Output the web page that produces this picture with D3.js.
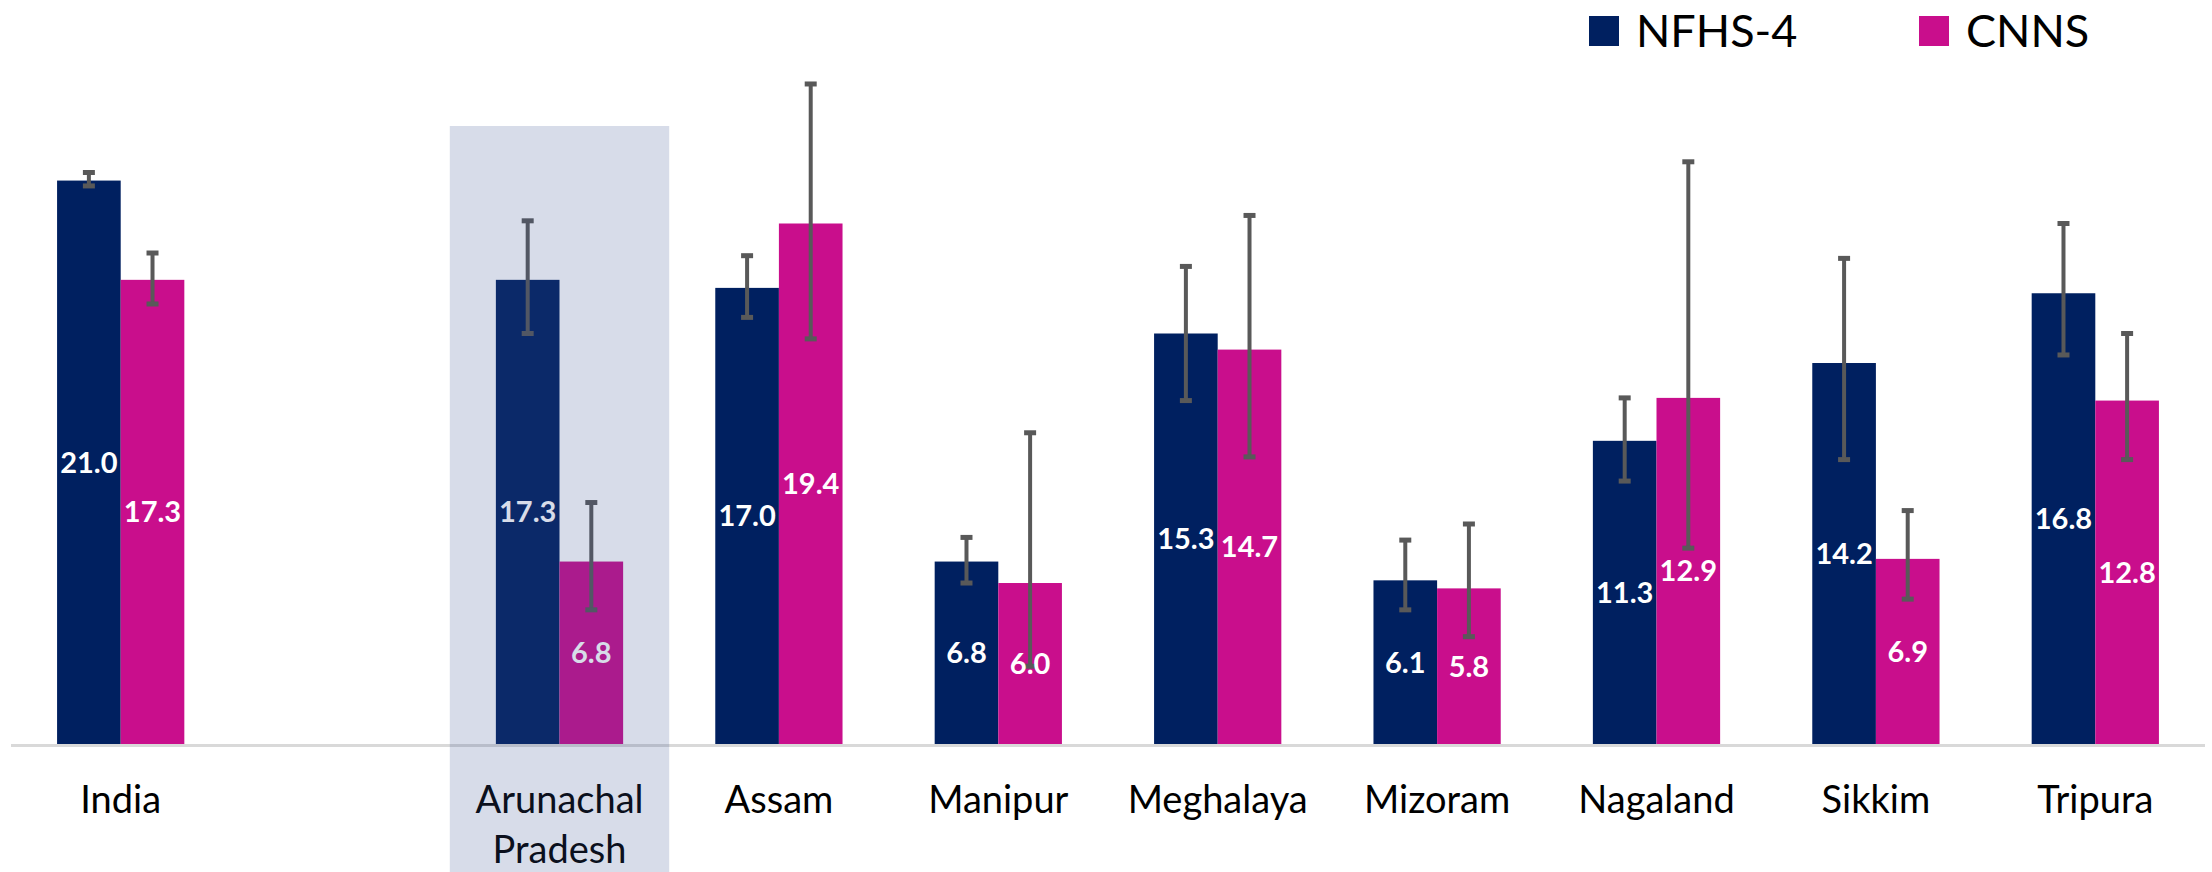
<!DOCTYPE html>
<html>
<head>
<meta charset="utf-8">
<script src="https://cdn.jsdelivr.net/npm/d3@7"></script>
<style>
  html, body { margin: 0; padding: 0; background: #fff; }
  svg { display: block; font-family: Lato, "Open Sans", sans-serif; }
</style>
</head>
<body>
<svg id="chart" width="2212" height="872"></svg>
<script>
// 数据
const categories = ["India", "Arunachal Pradesh", "Assam", "Manipur", "Meghalaya", "Mizoram", "Nagaland", "Sikkim", "Tripura"];
const seriesNames = ["NFHS-4", "CNNS"];
const nfhs = [21.0, 17.3, 17.0, 6.8, 15.3, 6.1, 11.3, 14.2, 16.8];
const cnns = [17.3, 6.8, 19.4, 6.0, 14.7, 5.8, 12.9, 6.9, 12.8];
// 置信区间
const nfhsLow  = [20.8, 15.3, 15.9, 6.0, 12.8, 5.0, 9.8, 10.6, 14.5];
const nfhsHigh = [21.3, 19.5, 18.2, 7.7, 17.8, 7.6, 12.9, 18.1, 19.4];
const cnnsLow  = [16.4, 5.0, 15.1, 2.9, 10.7, 4.0, 7.3, 5.4, 10.6];
const cnnsHigh = [18.3, 9.0, 24.6, 11.6, 19.7, 8.2, 21.7, 8.7, 15.3];
const highlighted = "Arunachal Pradesh";

const colors = { nfhs: "#002060", cnns: "#c90e8c", err: "#595959", axis: "#d9d9d9" };

const svg = d3.select("#chart");
const width = 2212, height = 872;
const baseY = 744;

// India 和其他邦之间留一个空位
const slots = [categories[0], "__gap__", ...categories.slice(1)];

const x = d3.scaleBand()
    .domain(slots)
    .range([11, 2205])
    .paddingInner(0.42)
    .paddingOuter(0.21);

const xs = d3.scaleBand()
    .domain(seriesNames)
    .range([0, x.bandwidth()]);

const y = d3.scaleLinear()
    .domain([0, 27.73])
    .range([baseY, 0]);

const rows = categories.map((c, i) => ({
    cat: c,
    vals: [
        { s: "NFHS-4", v: nfhs[i], lo: nfhsLow[i], hi: nfhsHigh[i], color: colors.nfhs },
        { s: "CNNS", v: cnns[i], lo: cnnsLow[i], hi: cnnsHigh[i], color: colors.cnns }
    ]
}));

const g = svg.append("g");

// 坐标轴线
g.append("line")
    .attr("x1", 11).attr("x2", 2205)
    .attr("y1", baseY + 1.5).attr("y2", baseY + 1.5)
    .attr("stroke", colors.axis)
    .attr("stroke-width", 3);

const groups = g.selectAll(".grp")
    .data(rows)
    .enter()
    .append("g")
    .attr("class", "grp")
    .attr("transform", d => `translate(${x(d.cat)},0)`);

// 柱子
groups.selectAll("rect")
    .data(d => d.vals)
    .enter()
    .append("rect")
    .attr("x", d => xs(d.s))
    .attr("y", d => y(d.v))
    .attr("width", xs.bandwidth())
    .attr("height", d => baseY - y(d.v))
    .attr("fill", d => d.color);

// 误差线
const err = groups.selectAll(".err")
    .data(d => d.vals)
    .enter()
    .append("g")
    .attr("class", "err")
    .attr("stroke", colors.err);

err.append("line")
    .attr("x1", d => xs(d.s) + xs.bandwidth() / 2)
    .attr("x2", d => xs(d.s) + xs.bandwidth() / 2)
    .attr("y1", d => y(d.hi))
    .attr("y2", d => y(d.lo))
    .attr("stroke-width", 4);

["hi", "lo"].forEach(k => {
    err.append("line")
        .attr("x1", d => xs(d.s) + xs.bandwidth() / 2 - 6)
        .attr("x2", d => xs(d.s) + xs.bandwidth() / 2 + 6)
        .attr("y1", d => y(d[k]))
        .attr("y2", d => y(d[k]))
        .attr("stroke-width", 5);
});

// 数值标签
groups.selectAll(".val")
    .data(d => d.vals)
    .enter()
    .append("text")
    .attr("class", "val")
    .attr("x", d => xs(d.s) + xs.bandwidth() / 2)
    .attr("y", d => (y(d.v) + baseY) / 2)
    .attr("dy", "0.36em")
    .attr("text-anchor", "middle")
    .style("font-size", "29px")
    .style("font-weight", "bold")
    .style("fill", "#fff")
    .text(d => d.v.toFixed(1));

// 类别标签
groups.append("text")
    .attr("x", x.bandwidth() / 2)
    .attr("y", 813)
    .attr("text-anchor", "middle")
    .style("font-size", "38px")
    .style("fill", "#000")
    .each(function(d) {
        const words = d.cat === highlighted ? d.cat.split(" ") : [d.cat];
        d3.select(this).selectAll("tspan")
            .data(words)
            .enter()
            .append("tspan")
            .attr("x", x.bandwidth() / 2)
            .attr("dy", (w, i) => i === 0 ? 0 : 50)
            .text(w => w);
    });

// 高亮遮罩（覆盖在上面）
const step = x.step();
g.append("rect")
    .attr("x", x(highlighted) + x.bandwidth() / 2 - step / 2)
    .attr("y", 126)
    .attr("width", step)
    .attr("height", height - 126)
    .attr("fill", "#375291")
    .attr("fill-opacity", 0.2);

// 图例
const legend = svg.append("g");
const legendX = [1589, 1919];
seriesNames.forEach((name, i) => {
    legend.append("rect")
        .attr("x", legendX[i])
        .attr("y", 16)
        .attr("width", 30)
        .attr("height", 30)
        .attr("fill", i === 0 ? colors.nfhs : colors.cnns);
    legend.append("text")
        .attr("x", legendX[i] + 47)
        .attr("y", 47)
        .style("font-size", "45px")
        .style("fill", "#000")
        .text(name);
});
</script>
</body>
</html>
